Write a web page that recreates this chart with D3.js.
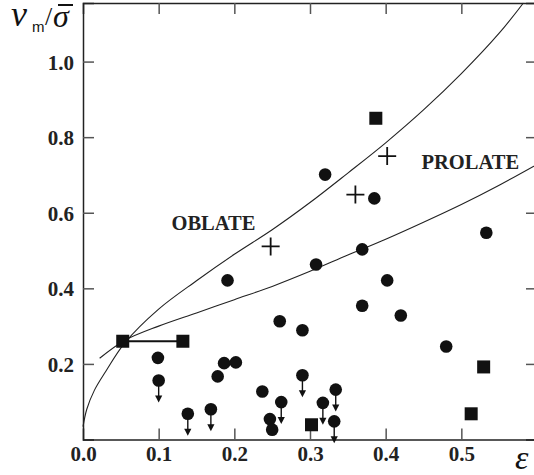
<!DOCTYPE html>
<html>
<head>
<meta charset="utf-8">
<script src="https://cdnjs.cloudflare.com/ajax/libs/d3/7.8.5/d3.min.js"></script>
<style>
  body { margin: 0; background: #fff; }
  svg { display: block; }
</style>
</head>
<body>
<svg id="chart"></svg>
<script>
// model curves (eps, v/sigma)
var oblateEps = [0.000, 0.005, 0.015, 0.030, 0.055, 0.100, 0.150, 0.200, 0.250, 0.300, 0.350, 0.400, 0.450, 0.500, 0.550, 0.582];
var oblateNu  = [0.034, 0.080, 0.130, 0.180, 0.255, 0.345, 0.420, 0.490, 0.555, 0.627, 0.705, 0.785, 0.872, 0.968, 1.075, 1.155];
var prolateEps = [0.022, 0.055, 0.100, 0.150, 0.200, 0.250, 0.300, 0.350, 0.400, 0.450, 0.500, 0.550, 0.600];
var prolateNu  = [0.215, 0.262, 0.300, 0.335, 0.370, 0.405, 0.445, 0.488, 0.530, 0.575, 0.622, 0.673, 0.728];

// filled circles, upper limits flagged with 1
var circleEps = [0.099, 0.100, 0.1385, 0.169, 0.178, 0.1865, 0.202, 0.191, 0.237, 0.247, 0.250, 0.262, 0.290, 0.317, 0.334, 0.332, 0.260, 0.290, 0.369, 0.420, 0.480, 0.320, 0.385, 0.533, 0.369, 0.308, 0.402];
var circleNu  = [0.216, 0.156, 0.068, 0.080, 0.167, 0.202, 0.204, 0.421, 0.127, 0.054, 0.026, 0.099, 0.170, 0.097, 0.132, 0.048, 0.313, 0.289, 0.354, 0.328, 0.246, 0.701, 0.638, 0.547, 0.503, 0.463, 0.421];
var circleLim = [0, 1, 1, 1, 0, 0, 0, 0, 0, 0, 0, 1, 1, 1, 1, 1, 0, 0, 0, 0, 0, 0, 0, 0, 0, 0, 0];

var squareEps = [0.0525, 0.132, 0.302, 0.5295, 0.513, 0.387];
var squareNu  = [0.260, 0.260, 0.039, 0.192, 0.068, 0.850];

var plusEps = [0.248, 0.360, 0.402];
var plusNu  = [0.511, 0.648, 0.750];

var xTicks = [0.0, 0.1, 0.2, 0.3, 0.4, 0.5];
var yTicks = [0.2, 0.4, 0.6, 0.8, 1.0];

var width = 534, height = 475;

var x = d3.scaleLinear().domain([0, 0.6]).range([83, 537]);
var y = d3.scaleLinear().domain([0, 1.155]).range([439.5, 3]);

var svg = d3.select("#chart")
  .attr("width", width)
  .attr("height", height);

var tickFont = "'Liberation Serif', 'Times New Roman', serif";

// axes
var gBottom = svg.append("g")
  .attr("transform", "translate(0," + y(0) + ")")
  .call(d3.axisBottom(x).tickValues(xTicks).tickSize(-11).tickPadding(7).tickFormat(d3.format(".1f")));
var gLeft = svg.append("g")
  .attr("transform", "translate(" + x(0) + ",0)")
  .call(d3.axisLeft(y).tickValues(yTicks).tickSize(-11).tickPadding(9).tickFormat(d3.format(".1f")));
var gTop = svg.append("g")
  .attr("transform", "translate(0," + y(1.155) + ")")
  .call(d3.axisTop(x).tickValues(xTicks.slice(1)).tickSize(-11).tickFormat(""));
var gRight = svg.append("g")
  .attr("transform", "translate(" + x(0.6) + ",0)")
  .call(d3.axisRight(y).tickValues(yTicks).tickSize(-11).tickFormat(""));

svg.selectAll(".domain")
  .attr("stroke", "#222")
  .attr("stroke-width", 1.5);
svg.selectAll(".tick line")
  .attr("stroke", "#555")
  .attr("stroke-width", 1.5);
svg.selectAll(".tick text")
  .attr("font-family", tickFont)
  .attr("font-weight", "bold")
  .attr("font-size", 21)
  .attr("fill", "#222");
gLeft.selectAll(".tick text").attr("dy", "0.36em");
gBottom.select(".tick line").remove();

// curves
var line = d3.line()
  .x(function (d) { return x(d[0]); })
  .y(function (d) { return y(d[1]); })
  .curve(d3.curveCatmullRom.alpha(0.5));

svg.append("path")
  .attr("d", line(d3.zip(oblateEps, oblateNu)))
  .attr("fill", "none")
  .attr("stroke", "#222")
  .attr("stroke-width", 1.1);
svg.append("path")
  .attr("d", line(d3.zip(prolateEps, prolateNu)))
  .attr("fill", "none")
  .attr("stroke", "#222")
  .attr("stroke-width", 1.1);

// bar joining the two left squares
svg.append("line")
  .attr("x1", x(squareEps[0])).attr("x2", x(squareEps[1]))
  .attr("y1", y(squareNu[0])).attr("y2", y(squareNu[1]))
  .attr("stroke", "#111")
  .attr("stroke-width", 2.2);

// upper-limit arrows
var lims = d3.range(circleEps.length).filter(function (i) { return circleLim[i]; });
svg.selectAll(".arrow")
  .data(lims)
  .enter().append("line")
  .attr("x1", function (i) { return x(circleEps[i]); })
  .attr("x2", function (i) { return x(circleEps[i]); })
  .attr("y1", function (i) { return y(circleNu[i]); })
  .attr("y2", function (i) { return y(circleNu[i]) + 17; })
  .attr("stroke", "#111")
  .attr("stroke-width", 1.4);
svg.selectAll(".head")
  .data(lims)
  .enter().append("path")
  .attr("d", function (i) {
    var cx = x(circleEps[i]), cy = y(circleNu[i]) + 22;
    return "M" + (cx - 3.6) + "," + (cy - 7) + "L" + (cx + 3.6) + "," + (cy - 7) + "L" + cx + "," + cy + "Z";
  })
  .attr("fill", "#111");

// circles
svg.selectAll(".dot")
  .data(circleEps)
  .enter().append("circle")
  .attr("cx", function (d) { return x(d); })
  .attr("cy", function (d, i) { return y(circleNu[i]); })
  .attr("r", 6.3)
  .attr("fill", "#111");

// squares
svg.selectAll(".sq")
  .data(squareEps)
  .enter().append("rect")
  .attr("x", function (d) { return x(d) - 6.5; })
  .attr("y", function (d, i) { return y(squareNu[i]) - 6.5; })
  .attr("width", 13)
  .attr("height", 13)
  .attr("fill", "#111");

// pluses
svg.selectAll(".plus")
  .data(plusEps)
  .enter().append("path")
  .attr("d", function (d, i) {
    var cx = x(d), cy = y(plusNu[i]);
    return "M" + (cx - 9) + "," + cy + "H" + (cx + 9) + "M" + cx + "," + (cy - 9) + "V" + (cy + 9);
  })
  .attr("stroke", "#111")
  .attr("stroke-width", 1.8)
  .attr("fill", "none");

// curve labels
svg.append("text")
  .attr("x", 171.5).attr("y", 230)
  .attr("font-family", tickFont).attr("font-weight", "bold").attr("font-size", 20.5)
  .attr("fill", "#222")
  .text("OBLATE");
svg.append("text")
  .attr("x", 421.5).attr("y", 168.5)
  .attr("font-family", tickFont).attr("font-weight", "bold").attr("font-size", 20.5)
  .attr("fill", "#222")
  .text("PROLATE");

// axis titles
svg.append("text")
  .attr("x", 11).attr("y", 26)
  .attr("font-family", tickFont).attr("font-style", "italic").attr("font-size", 36)
  .attr("fill", "#111")
  .text("ν");
svg.append("text")
  .attr("x", 32).attr("y", 32)
  .attr("font-family", "'Liberation Sans', Arial, sans-serif").attr("font-size", 15)
  .attr("fill", "#111")
  .text("m");
svg.append("text")
  .attr("x", 45).attr("y", 25)
  .attr("font-family", tickFont).attr("font-size", 26)
  .attr("fill", "#111")
  .text("/");
svg.append("text")
  .attr("x", 53).attr("y", 27)
  .attr("font-family", tickFont).attr("font-style", "italic").attr("font-size", 32)
  .attr("fill", "#111")
  .text("σ");
svg.append("line")
  .attr("x1", 58).attr("x2", 73).attr("y1", 5).attr("y2", 5)
  .attr("stroke", "#111").attr("stroke-width", 2);
svg.append("text")
  .attr("x", 515).attr("y", 469)
  .attr("font-family", tickFont).attr("font-style", "italic").attr("font-size", 34)
  .attr("fill", "#111")
  .text("ε");
</script>
</body>
</html>
